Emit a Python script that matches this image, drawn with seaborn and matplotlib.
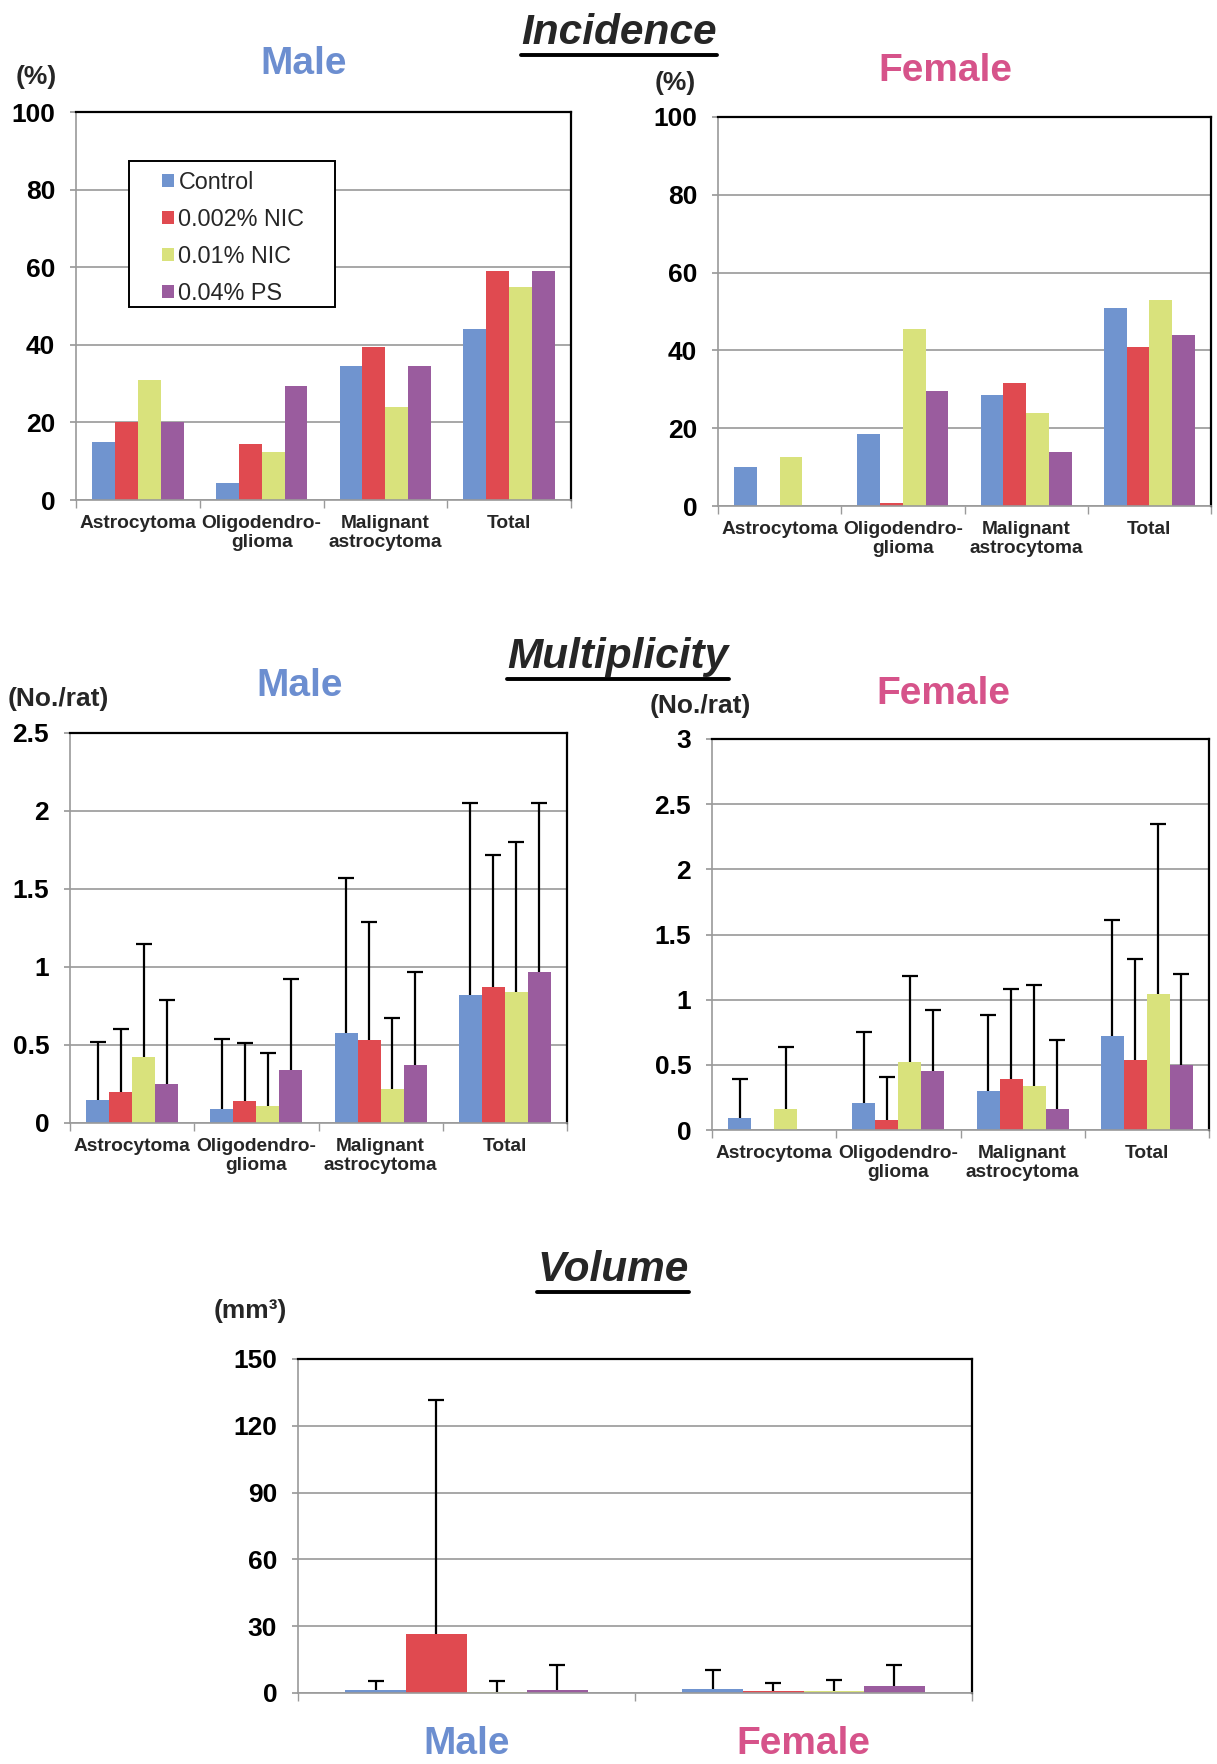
import matplotlib
matplotlib.use("Agg")
import matplotlib.pyplot as plt
import matplotlib.lines as mlines
from matplotlib.patches import Rectangle
from matplotlib.container import BarContainer
import numpy as np
import pandas as pd
import seaborn as sns

# ---------------- data ----------------
groups = ["Control", "0.002% NIC", "0.01% NIC", "0.04% PS"]
tumor_types = ["Astrocytoma", "Oligodendro-\nglioma", "Malignant\nastrocytoma", "Total"]
sexes = ["Male", "Female"]

# Incidence (%), rows = tumor type, cols = group
inc_male = [[15, 20, 31, 20],
            [4.3, 14.5, 12.5, 29.5],
            [34.5, 39.5, 24, 34.5],
            [44, 59, 55, 59]]
inc_female = [[10, 0, 12.7, 0],
              [18.5, 0.7, 45.5, 29.5],
              [28.5, 31.5, 24, 14],
              [51, 41, 53, 44]]

# Multiplicity (No./rat): mean and mean+SD
mul_male = [[0.15, 0.20, 0.42, 0.25],
            [0.09, 0.14, 0.11, 0.34],
            [0.58, 0.53, 0.22, 0.37],
            [0.82, 0.87, 0.84, 0.97]]
mul_male_top = [[0.52, 0.60, 1.15, 0.79],
                [0.54, 0.51, 0.45, 0.92],
                [1.57, 1.29, 0.67, 0.97],
                [2.05, 1.72, 1.80, 2.05]]
mul_female = [[0.09, 0, 0.16, 0],
              [0.21, 0.08, 0.52, 0.45],
              [0.30, 0.39, 0.34, 0.16],
              [0.72, 0.54, 1.04, 0.50]]
mul_female_top = [[0.39, 0, 0.64, 0],
                  [0.75, 0.41, 1.18, 0.92],
                  [0.88, 1.08, 1.11, 0.69],
                  [1.61, 1.31, 2.35, 1.20]]

# Volume (mm3): rows = sex
vol = [[1.5, 26.3, 0.6, 1.5],
       [2.0, 1.0, 0.8, 3.0]]
vol_top = [[5.3, 131.5, 5.3, 12.5],
           [10.5, 4.3, 5.8, 12.5]]

colors = ["#7094CF", "#E04A50", "#D9E27C", "#9A5C9E"]
male_color = "#6C8ED0"
female_color = "#D6538A"

# ---------------- style ----------------
sns.set_theme(style="white")
plt.rcParams["font.family"] = ["Liberation Sans", "DejaVu Sans"]

W, H = 1217, 1764
fig = plt.figure(figsize=(W / 100, H / 100), dpi=100)


def frac_axes(left, top, right, bottom):
    return fig.add_axes([left / W, 1 - bottom / H, (right - left) / W, (bottom - top) / H])


def long_df(values, cats):
    rows = []
    for i, c in enumerate(cats):
        for j, g in enumerate(groups):
            rows.append({"cat": c, "group": g, "value": values[i][j]})
    return pd.DataFrame(rows)


def style_axes(ax, yticks, ylabels, ncat, ytick_size=19):
    ax.set_ylim(yticks[0], yticks[-1])
    ax.set_yticks(yticks)
    ax.set_yticklabels(ylabels, fontsize=ytick_size, fontweight="bold")
    ax.yaxis.grid(True, color="#8f8f8f", linewidth=1.1)
    ax.set_axisbelow(True)
    for s in ["top", "right"]:
        ax.spines[s].set_color("black")
        ax.spines[s].set_linewidth(1.6)
    for s in ["left", "bottom"]:
        ax.spines[s].set_color("#9a9a9a")
        ax.spines[s].set_linewidth(1.2)
    ax.tick_params(axis="y", which="major", left=True, length=4, color="#9a9a9a",
                   pad=11, labelcolor="black")
    ax.set_xticks(np.arange(ncat))
    ax.set_xticks(np.arange(-0.5, ncat, 1.0), minor=True)
    ax.tick_params(axis="x", which="minor", bottom=True, length=6, color="#9a9a9a")
    ax.tick_params(axis="x", which="major", length=0, pad=11)
    ax.set_xlim(-0.5, ncat - 0.5)
    ax.set_xlabel("")
    ax.set_ylabel("")


def add_errbars(ax, means, tops):
    bar_conts = [c for c in ax.containers if isinstance(c, BarContainer)]
    for j, cont in enumerate(bar_conts):
        for i, bar in enumerate(cont):
            m = means[i][j]
            sd = tops[i][j] - m
            if sd <= 0:
                continue
            xc = bar.get_x() + bar.get_width() / 2
            eb = ax.errorbar([xc], [m], yerr=[[0], [sd]], fmt="none", ecolor="black",
                             elinewidth=1.6, capsize=5.5, capthick=1.6, zorder=5)
            for cap in eb[1]:
                if np.allclose(cap.get_ydata(), m):
                    cap.set_visible(False)


def cat_panel(ax, values, tops, yticks, ylabels, legend=False):
    df = long_df(values, tumor_types)
    sns.barplot(data=df, x="cat", y="value", hue="group", hue_order=groups,
                palette=colors, width=0.74, errorbar=None, saturation=1,
                linewidth=0, ax=ax, legend=legend)
    if tops is not None:
        add_errbars(ax, values, tops)
    style_axes(ax, yticks, ylabels, len(tumor_types))
    ax.set_xticklabels(tumor_types, fontsize=13.8, fontweight="bold", linespacing=1.15)


# ---------------- Incidence ----------------
ax1 = frac_axes(76, 112, 571, 500)
cat_panel(ax1, inc_male, None, [0, 20, 40, 60, 80, 100],
          ["0", "20", "40", "60", "80", "100"], legend=True)
ax1.add_patch(Rectangle((0.107, 0.497), 0.416, 0.377, transform=ax1.transAxes,
                        facecolor="white", edgecolor="black", linewidth=1.4, zorder=4))
leg = ax1.legend(loc="upper left", bbox_to_anchor=(0.174, 0.848), fontsize=16.8,
                 frameon=False,
                 handlelength=0.5, handleheight=0.5, handletextpad=0.2,
                 labelspacing=0.6, borderpad=0, borderaxespad=0)
leg.set_zorder(6)

ax2 = frac_axes(718, 117, 1211, 506)
cat_panel(ax2, inc_female, None, [0, 20, 40, 60, 80, 100],
          ["0", "20", "40", "60", "80", "100"])

# ---------------- Multiplicity ----------------
ax3 = frac_axes(70, 733, 567, 1123)
cat_panel(ax3, mul_male, mul_male_top, [0, 0.5, 1, 1.5, 2, 2.5],
          ["0", "0.5", "1", "1.5", "2", "2.5"])

ax4 = frac_axes(712, 739, 1209, 1130)
cat_panel(ax4, mul_female, mul_female_top, [0, 0.5, 1, 1.5, 2, 2.5, 3],
          ["0", "0.5", "1", "1.5", "2", "2.5", "3"])

# ---------------- Volume ----------------
ax5 = frac_axes(298, 1359, 972, 1693)
vdf = long_df(vol, sexes)
sns.barplot(data=vdf, x="cat", y="value", hue="group", hue_order=groups,
            palette=colors, width=0.72, errorbar=None, saturation=1,
            linewidth=0, ax=ax5, legend=False)
add_errbars(ax5, vol, vol_top)
style_axes(ax5, [0, 30, 60, 90, 120, 150], ["0", "30", "60", "90", "120", "150"], 2)
ax5.set_xticklabels(sexes, fontsize=28, fontweight="bold")
ax5.tick_params(axis="x", which="major", pad=24)
for lab, c in zip(ax5.get_xticklabels(), [male_color, female_color]):
    lab.set_color(c)

# ---------------- texts ----------------
def ftext(x, y, s, **kw):
    return fig.text(x / W, 1 - y / H, s, **kw)

titles = [
    ftext(619, 33, "Incidence", fontsize=30.5, fontweight="bold", style="italic",
          ha="center", va="center"),
    ftext(618, 657, "Multiplicity", fontsize=30.5, fontweight="bold", style="italic",
          ha="center", va="center"),
    ftext(613, 1270, "Volume", fontsize=30.5, fontweight="bold", style="italic",
          ha="center", va="center"),
]

ftext(304, 64, "Male", fontsize=28, fontweight="bold", color=male_color, ha="center", va="center")
ftext(945, 71, "Female", fontsize=28, fontweight="bold", color=female_color, ha="center", va="center")
ftext(300, 686, "Male", fontsize=28, fontweight="bold", color=male_color, ha="center", va="center")
ftext(943, 694, "Female", fontsize=28, fontweight="bold", color=female_color, ha="center", va="center")

ftext(36, 77, "(%)", fontsize=19, fontweight="bold", ha="center", va="center")
ftext(675, 83, "(%)", fontsize=19, fontweight="bold", ha="center", va="center")
ftext(58, 699, "(No./rat)", fontsize=19, fontweight="bold", ha="center", va="center")
ftext(700, 706, "(No./rat)", fontsize=19, fontweight="bold", ha="center", va="center")
ftext(250, 1311, "(mm³)", fontsize=19, fontweight="bold", ha="center", va="center")

fig.canvas.draw()
renderer = fig.canvas.get_renderer()
for t in titles:
    bb = t.get_window_extent(renderer).transformed(fig.transFigure.inverted())
    y = bb.y0 - 2 / H
    fig.add_artist(mlines.Line2D([bb.x0, bb.x1], [y, y], transform=fig.transFigure,
                                 color="black", linewidth=2.8))

fig.savefig("out.png", dpi=100, facecolor="white")
